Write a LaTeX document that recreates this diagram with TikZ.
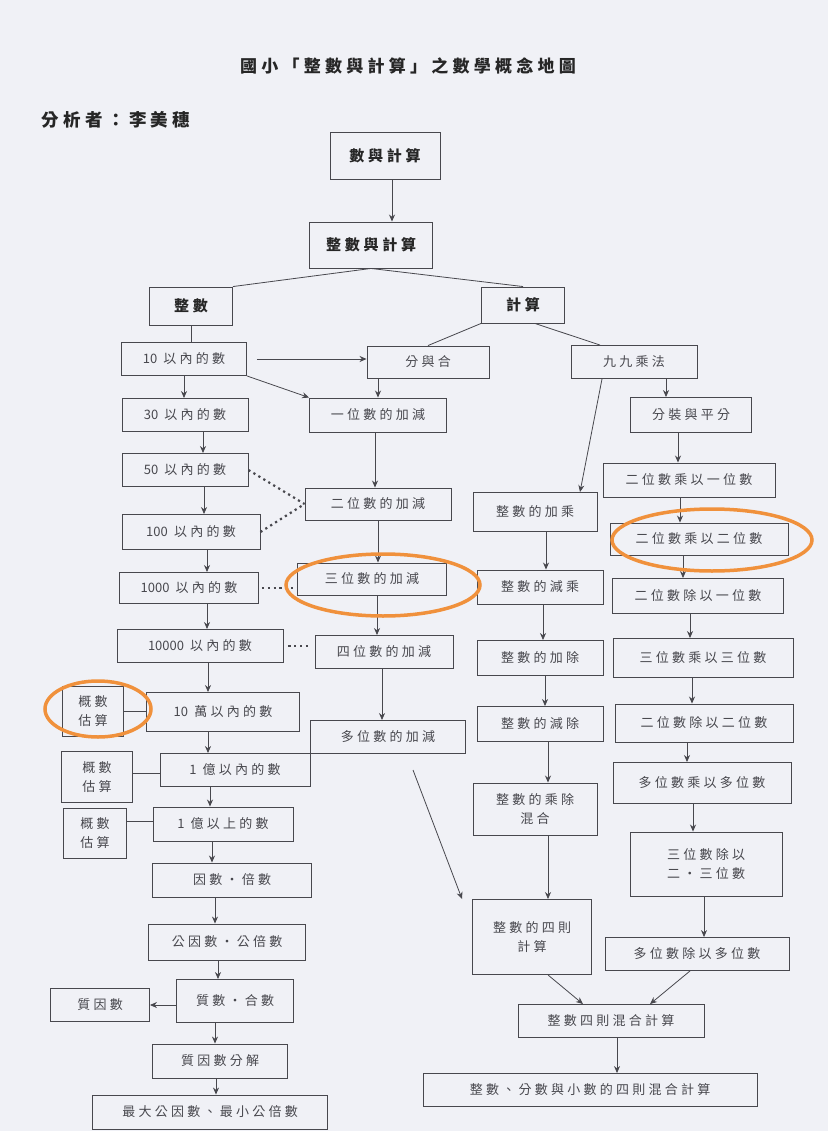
\documentclass[tikz,border=0pt]{standalone}
\usepackage{fontspec}
\newfontfamily\cjk[LetterSpace=25]{Noto Sans CJK TC}
\newfontfamily\cjkdig{Noto Sans CJK TC}
\newcommand{\dig}[1]{{\cjkdig #1}}
\usepackage{tikz}
\usetikzlibrary{
	positioning,
	arrows.meta
}
\definecolor{paper}{RGB}{240,241,246}
\definecolor{ink}{RGB}{72,72,78}
\definecolor{marker}{RGB}{240,145,60}
\tikzset{
	box/.style={draw=ink, line width=0.9pt, minimum height=33pt, inner sep=2pt, text=ink, align=center, font=\cjk\fontsize{13}{19}\selectfont},
	head/.style={box, text=black!85, font=\cjk\bfseries\fontsize{15}{18}\selectfont},
	arr/.style={draw=ink, line width=0.8pt, -{Stealth[length=7pt,width=6pt]}},
	link/.style={draw=ink, line width=0.8pt},
	dots/.style={draw=ink, line width=2.2pt, dash pattern=on 2.2pt off 3.6pt},
	hl/.style={draw=marker, line width=3.5pt}
}

\begin{document}
\begin{tikzpicture}[x=1pt,y=-1pt]
		\fill[paper] (0,0) rectangle (828,1131);
		\useasboundingbox (0,0) rectangle (828,1131);

		\node[text=black!85, font=\cjk\bfseries\fontsize{17}{20}\selectfont] (title) at (408,66) {國小「整數與計算」之數學概念地圖};
		\node[anchor=west, text=black!85, font=\cjk\bfseries\fontsize{17.5}{20}\selectfont] (author) at (38,120) {分析者：李美穗};

		\draw
			node[head,minimum width=110pt,minimum height=47pt] (sy)     at (385,156)  {數與計算}
			node[head,minimum width=123pt,minimum height=46pt] (zsy)    at (371,245)  {整數與計算}
			node[head,minimum width=83pt,minimum height=38pt]  (zs)     at (191,306)  {整數}
			node[head,minimum width=83pt,minimum height=36pt]  (js)     at (523,305)  {計算}

			node[box,minimum width=125pt] (n10)    at (184,359)  {\dig{10} 以內的數}
			node[box,minimum width=126pt] (n30)    at (185,415)  {\dig{30} 以內的數}
			node[box,minimum width=126pt] (n50)    at (185,470)  {\dig{50} 以內的數}
			node[box,minimum width=138pt,minimum height=35pt] (n100)   at (191,532)  {\dig{100} 以內的數}
			node[box,minimum width=139pt,minimum height=31pt] (n1000)  at (189,588)  {\dig{1000} 以內的數}
			node[box,minimum width=166pt] (n10000) at (200,646)  {\dig{10000} 以內的數}
			node[box,minimum width=153pt,minimum height=39pt] (n10w)   at (223,712)  {\dig{10} 萬以內的數}
			node[box,minimum width=150pt] (n1y)    at (235,770)  {\dig{1} 億以內的數}
			node[box,minimum width=140pt,minimum height=34pt] (n1yu)   at (223,824)  {\dig{1} 億以上的數}
			node[box,minimum width=159pt,minimum height=34pt] (ysbs)   at (232,880)  {因數・倍數}
			node[box,minimum width=157pt,minimum height=36pt] (gys)    at (227,942)  {公因數・公倍數}
			node[box,minimum width=117pt,minimum height=43pt] (zsh)    at (235,1001) {質數・合數}
			node[box,minimum width=99pt]  (zys)    at (100,1005) {質因數}
			node[box,minimum width=135pt,minimum height=34pt] (zysfj)  at (220,1061) {質因數分解}
			node[box,minimum width=235pt,minimum height=34pt] (gcd)    at (210,1112) {最大公因數、最小公倍數}

			node[box,minimum width=61pt,minimum height=50pt]  (gs1) at (93,711)  {概數\\估算}
			node[box,minimum width=71pt,minimum height=51pt]  (gs2) at (97,777)  {概數\\估算}
			node[box,minimum width=63pt,minimum height=50pt]  (gs3) at (95,833)  {概數\\估算}

			node[box,minimum width=122pt,minimum height=32pt] (fyh)  at (428,362) {分與合}
			node[box,minimum width=137pt,minimum height=34pt] (add1) at (378,415) {一位數的加減}
			node[box,minimum width=146pt,minimum height=32pt] (add2) at (378,504) {二位數的加減}
			node[box,minimum width=149pt,minimum height=32pt] (add3) at (372,579) {三位數的加減}
			node[box,minimum width=138pt] (add4) at (384,652) {四位數的加減}
			node[box,minimum width=155pt] (addn) at (388,737) {多位數的加減}

			node[box,minimum width=124pt,minimum height=39pt] (jcj)    at (535,512) {整數的加乘}
			node[box,minimum width=126pt,minimum height=34pt] (jjc)    at (540,587) {整數的減乘}
			node[box,minimum width=126pt,minimum height=35pt] (jjcc)   at (540,658) {整數的加除}
			node[box,minimum width=126pt,minimum height=35pt] (jjchu)  at (540,724) {整數的減除}
			node[box,minimum width=124pt,minimum height=52pt] (ccmix)  at (535,809) {整數的乘除\\混合}
			node[box,minimum width=119pt,minimum height=75pt] (sizeze) at (532,937) {整數的四則\\計算}

			node[box,minimum width=126pt] (jjcf)  at (634,362) {九九乘法}
			node[box,minimum width=121pt,minimum height=35pt] (fzpf)  at (691,415) {分裝與平分}
			node[box,minimum width=172pt,minimum height=34pt] (mul21) at (689,480) {二位數乘以一位數}
			node[box,minimum width=178pt,minimum height=32pt] (mul22) at (699,539) {二位數乘以二位數}
			node[box,minimum width=171pt,minimum height=35pt] (div21) at (698,596) {二位數除以一位數}
			node[box,minimum width=180pt,minimum height=39pt] (mul33) at (703,658) {三位數乘以三位數}
			node[box,minimum width=178pt,minimum height=38pt] (div22) at (704,723) {二位數除以二位數}
			node[box,minimum width=178pt,minimum height=41pt] (mulnn) at (702,783) {多位數乘以多位數}
			node[box,minimum width=152pt,minimum height=64pt] (div3)  at (706,864) {三位數除以\\二・三位數}
			node[box,minimum width=184pt] (divnn) at (697,954) {多位數除以多位數}

			node[box,minimum width=186pt] (mix)   at (611,1021) {整數四則混合計算}
			node[box,minimum width=334pt] (final) at (590,1090) {整數、分數與小數的四則混合計算}

			([xshift=7pt]sy.south)   edge[arr]  ([xshift=7pt]sy.south |- zsy.north)
			(zsy.south)              edge[link] (zs.north east)
			(zsy.south)              edge[link] (js.north)
			(zs.south)               edge[link] (zs.south |- n10.north)
			(js.south west)          edge[link] (fyh.north)
			([xshift=12pt]js.south)  edge[link] ([xshift=-34pt]jjcf.north)

			(n10.east)               edge[arr,shorten <=10pt] (n10.east -| fyh.west)
			(n10.south east)         edge[arr]  (add1.north west)
			(n10.south)              edge[arr]  (n10.south |- n30.north)
			([xshift=18pt]n30.south)     edge[arr] ([xshift=18pt]n30.south |- n50.north)
			([xshift=19pt]n50.south)     edge[arr] ([xshift=19pt]n50.south |- n100.north)
			([xshift=16pt]n100.south)    edge[arr] ([xshift=16pt]n100.south |- n1000.north)
			([xshift=18pt]n1000.south)   edge[arr] ([xshift=18pt]n1000.south |- n10000.north)
			([xshift=8pt]n10000.south)   edge[arr] ([xshift=8pt]n10000.south |- n10w.north)
			([xshift=-15pt]n10w.south)   edge[arr] ([xshift=-15pt]n10w.south |- n1y.north)
			([xshift=-25pt]n1y.south)    edge[arr] ([xshift=-25pt]n1y.south |- n1yu.north)
			([xshift=-11pt]n1yu.south)   edge[arr] ([xshift=-11pt]n1yu.south |- ysbs.north)
			([xshift=-17pt]ysbs.south)   edge[arr] ([xshift=-17pt]ysbs.south |- gys.north)
			([xshift=-9pt]gys.south)     edge[arr] ([xshift=-9pt]gys.south |- zsh.north)
			([xshift=-20pt]zsh.south)    edge[arr] ([xshift=-20pt]zsh.south |- zysfj.north)
			([xshift=-4pt]zysfj.south)   edge[arr] ([xshift=-4pt]zysfj.south |- gcd.north)
			([yshift=-4pt]zsh.west)      edge[arr] ([yshift=-4pt]zsh.west -| zys.east)

			(gs1.east)               edge[link] (gs1.east -| n10w.west)
			([yshift=4pt]gs2.east)   edge[link] ([yshift=4pt]gs2.east -| n1y.west)
			([yshift=12pt]gs3.east)  edge[link] ([yshift=12pt]gs3.east -| n1yu.west)

			(n50.east)               edge[dots] (add2.west)
			(n100.east)              edge[dots] (add2.west)
			(n1000.east)             edge[dots,shorten <=3pt] (n1000.east -| add3.west)
			(n10000.east)            edge[dots,shorten <=5pt,shorten >=3pt] (n10000.east -| add4.west)

			(fyh.south -| add1.north)    edge[arr] (add1.north)
			([xshift=-3pt]add1.south)    edge[arr] ([xshift=-3pt]add1.south |- add2.north)
			(add2.south)                 edge[arr] (add2.south |- add3.north)
			([xshift=5pt]add3.south)     edge[arr] ([xshift=5pt]add3.south |- add4.north)
			([xshift=-2pt]add4.south)    edge[arr] ([xshift=-2pt]add4.south |- addn.north)

			([xshift=-32pt]jjcf.south)   edge[arr] ([xshift=45pt]jcj.north)
			([xshift=11pt]jcj.south)     edge[arr] ([xshift=11pt]jcj.south |- jjc.north)
			([xshift=3pt]jjc.south)      edge[arr] ([xshift=3pt]jjc.south |- jjcc.north)
			([xshift=5pt]jjcc.south)     edge[arr] ([xshift=5pt]jjcc.south |- jjchu.north)
			([xshift=8pt]jjchu.south)    edge[arr] ([xshift=8pt]jjchu.south |- ccmix.north)
			([xshift=13pt]ccmix.south)   edge[arr] ([xshift=13pt]ccmix.south |- sizeze.north)

			([xshift=32pt]jjcf.south)    edge[arr] ([xshift=32pt]jjcf.south |- fzpf.north)
			([xshift=-13pt]fzpf.south)   edge[arr] ([xshift=-13pt]fzpf.south |- mul21.north)
			([xshift=-9pt]mul21.south)   edge[arr] ([xshift=-9pt]mul21.south |- mul22.north)
			([xshift=-16pt]mul22.south)  edge[arr] ([xshift=-16pt]mul22.south |- div21.north)
			([xshift=-8pt]div21.south)   edge[arr] ([xshift=-8pt]div21.south |- mul33.north)
			([xshift=-11pt]mul33.south)  edge[arr] ([xshift=-11pt]mul33.south |- div22.north)
			([xshift=-17pt]div22.south)  edge[arr] ([xshift=-17pt]div22.south |- mulnn.north)
			([xshift=-9pt]mulnn.south)   edge[arr] ([xshift=-9pt]mulnn.south |- div3.north)
			([xshift=-2pt]div3.south)    edge[arr] ([xshift=-2pt]div3.south |- divnn.north)

			([xshift=16pt]sizeze.south)  edge[arr] ([xshift=-28pt]mix.north)
			([xshift=-7pt]divnn.south)   edge[arr] ([xshift=39pt]mix.north)
			([xshift=6pt]mix.south)      edge[arr] ([xshift=6pt]mix.south |- final.north)
		;

		\coordinate (addnout) at (413,770);
		\draw[arr] (addnout) -- ([xshift=-10pt]sizeze.north west);

		\draw[hl] (383,585) ellipse [x radius=97, y radius=31];
		\draw[hl] (98,709) ellipse [x radius=53, y radius=28];
		\draw[hl] (712,540) ellipse [x radius=100, y radius=31];
	\end{tikzpicture}
\end{document}
